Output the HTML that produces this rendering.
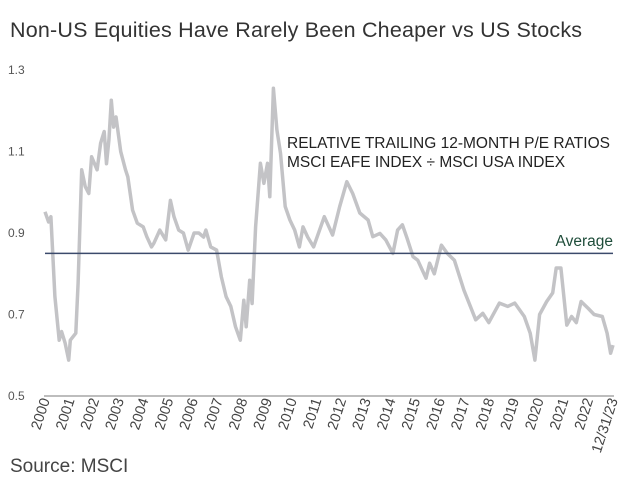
<!DOCTYPE html>
<html><head><meta charset="utf-8"><style>
body{margin:0;background:#fff;}
svg{display:block;font-family:"Liberation Sans",sans-serif;}
</style></head><body>
<svg id="chart" width="640" height="501">
<text x="10" y="37" font-size="21.5" letter-spacing="0.2" fill="#333">Non-US Equities Have Rarely Been Cheaper vs US Stocks</text>
<text x="287" y="148" font-size="15.5" fill="#222">RELATIVE TRAILING 12-MONTH P/E RATIOS</text>
<text x="287" y="167" font-size="15.5" fill="#222">MSCI EAFE INDEX ÷ MSCI USA INDEX</text>
<text x="613" y="246" font-size="15.5" fill="#1f4d3a" text-anchor="end">Average</text>
<text x="10" y="472" font-size="19" fill="#444">Source: MSCI</text>
<g id="axes"></g>
<g id="series"></g>
</svg>
<script>
const yTicks=[0.5,0.7,0.9,1.1,1.3];
const yTickLabels=["0.5","0.7","0.9","1.1","1.3"];
const xLabels=["2000","2001","2002","2003","2004","2005","2006","2007","2008","2009","2010","2011","2012","2013","2014","2015","2016","2017","2018","2019","2020","2021","2022","12/31/23"];
const averageValue=0.85;
const years=[2000.0,2000.15,2000.25,2000.42,2000.6,2000.7,2000.85,2001.0,2001.07,2001.3,2001.4,2001.55,2001.7,2001.85,2001.97,2002.2,2002.35,2002.5,2002.6,2002.7,2002.8,2002.9,2003.0,2003.2,2003.4,2003.5,2003.7,2003.9,2004.15,2004.3,2004.5,2004.6,2004.85,2005.1,2005.3,2005.45,2005.65,2005.85,2006.05,2006.3,2006.5,2006.7,2006.8,2007.0,2007.25,2007.45,2007.65,2007.85,2008.05,2008.25,2008.4,2008.5,2008.65,2008.75,2008.9,2009.1,2009.25,2009.4,2009.5,2009.65,2009.8,2009.95,2010.15,2010.35,2010.55,2010.75,2010.9,2011.1,2011.35,2011.8,2012.15,2012.45,2012.75,2013.0,2013.3,2013.65,2013.85,2014.15,2014.4,2014.7,2014.9,2015.1,2015.3,2015.55,2015.75,2016.1,2016.25,2016.45,2016.75,2017.0,2017.3,2017.7,2018.2,2018.5,2018.75,2019.2,2019.55,2019.85,2020.25,2020.5,2020.7,2020.9,2021.2,2021.45,2021.6,2021.8,2022.05,2022.25,2022.45,2022.65,2022.95,2023.2,2023.55,2023.75,2023.9,2024.0];
const values=[0.952,0.927,0.94,0.744,0.637,0.658,0.63,0.588,0.637,0.654,0.777,1.055,1.014,0.997,1.087,1.055,1.12,1.149,1.07,1.128,1.226,1.16,1.185,1.10,1.055,1.038,0.956,0.924,0.915,0.891,0.866,0.875,0.907,0.883,0.98,0.94,0.907,0.90,0.858,0.90,0.90,0.89,0.907,0.866,0.858,0.793,0.744,0.72,0.67,0.637,0.735,0.67,0.784,0.727,0.915,1.071,1.022,1.071,0.989,1.255,1.153,1.096,0.965,0.932,0.907,0.866,0.915,0.89,0.866,0.94,0.895,0.965,1.026,0.997,0.949,0.932,0.891,0.899,0.883,0.85,0.907,0.92,0.887,0.842,0.833,0.789,0.826,0.80,0.87,0.85,0.833,0.76,0.687,0.703,0.68,0.728,0.72,0.728,0.695,0.654,0.588,0.70,0.732,0.753,0.814,0.814,0.674,0.695,0.68,0.732,0.715,0.70,0.695,0.654,0.605,0.625];
const NS="http://www.w3.org/2000/svg";
const x0=45,x1=613,y0=396,y1=70;
function xs(t){return x0+(t-2000)/24*(x1-x0);}
function ys(v){return y0-(v-0.5)/0.8*(y0-y1);}
const axes=document.getElementById('axes'),ser=document.getElementById('series');
function mk(tag,attrs,parent){const e=document.createElementNS(NS,tag);for(const k in attrs)e.setAttribute(k,attrs[k]);parent.appendChild(e);return e;}
yTicks.forEach((v,i)=>{
  const t=mk('text',{x:8,y:ys(v)+4,'font-size':12,fill:'#555'},axes);
  t.textContent=yTickLabels[i];
  
  
});
const base=mk('line',{x1:x0-1,x2:x1+1,y1:y0,y2:y0,stroke:'#bdbdbd','stroke-width':2},axes);


const step=(x1-x0)/(xLabels.length-1);
xLabels.forEach((s,i)=>{
  const x=x0+i*step+5,y=y0+4;
  const t=mk('text',{x:x,y:y,'font-size':14.5,fill:'#444','text-anchor':'end',transform:`rotate(-72 ${x} ${y})`},axes);
  t.textContent=s;
  
  
});
const d=years.map((t,i)=>(i?'L':'M')+xs(t).toFixed(1)+' '+ys(values[i]).toFixed(1)).join(' ');
const p=mk('path',{d:d,fill:'none',stroke:'#c3c3c6','stroke-width':3.5,'stroke-linejoin':'round'},ser);


const avg=mk('line',{x1:x0,x2:x1,y1:ys(averageValue),y2:ys(averageValue),stroke:'#3b4a6b','stroke-width':1.5},ser);


</script>
</body></html>
